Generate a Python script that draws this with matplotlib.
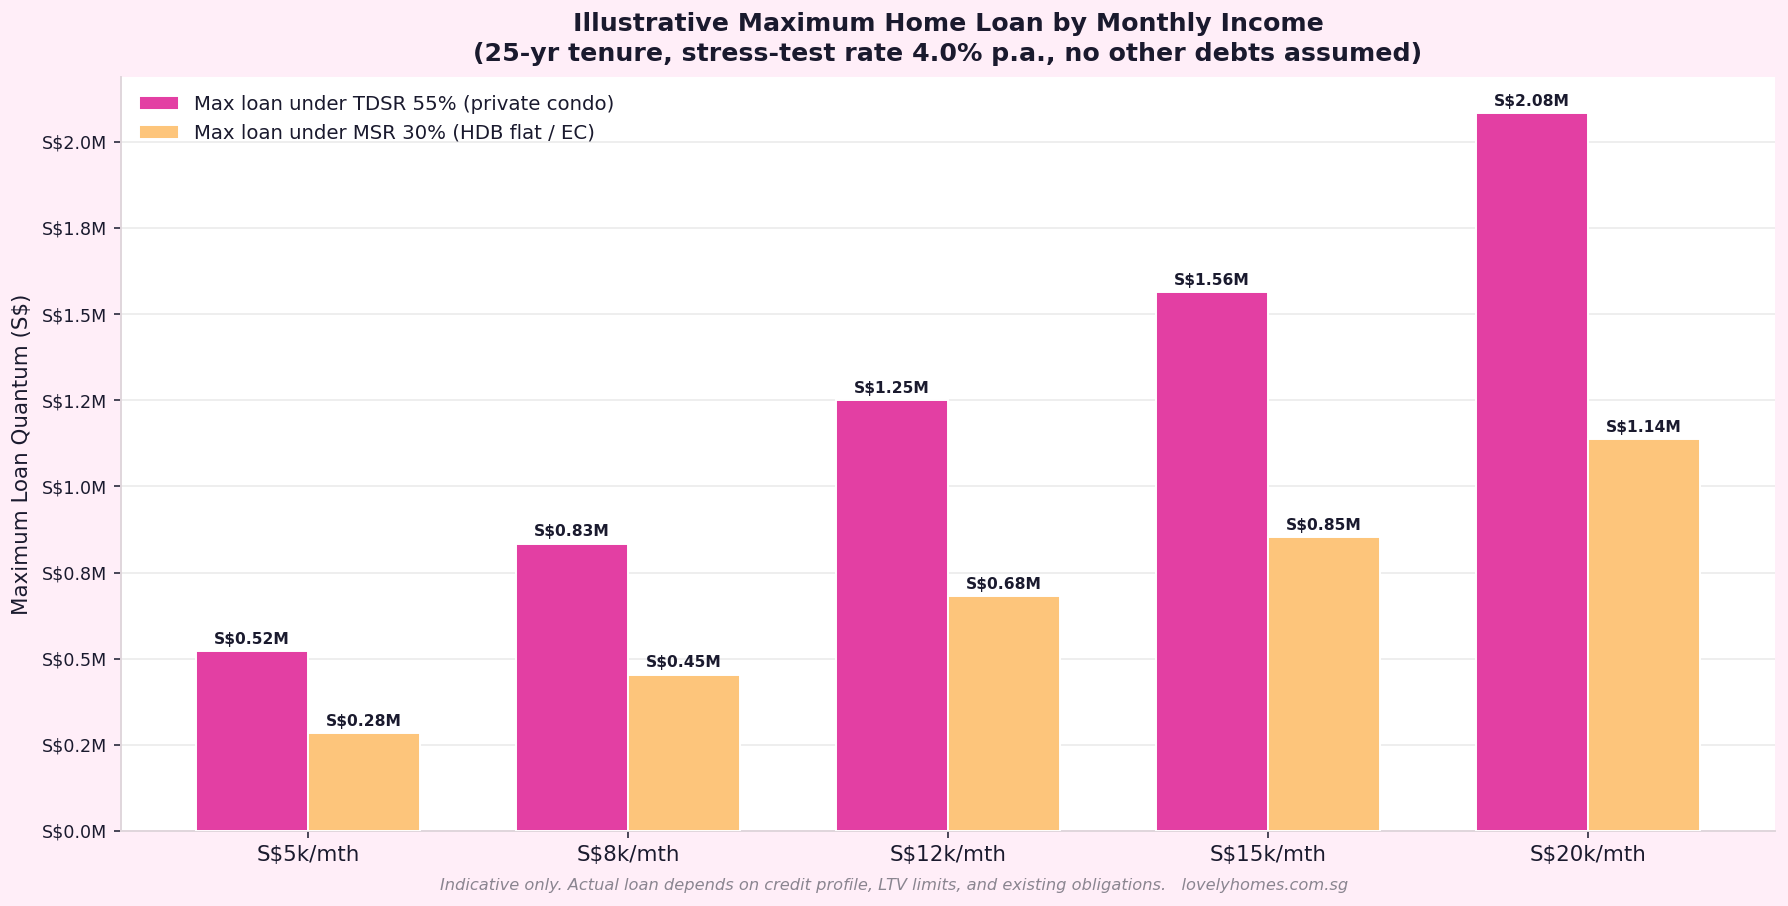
import matplotlib
matplotlib.use("Agg")
import matplotlib.pyplot as plt
import numpy as np
from matplotlib.ticker import FuncFormatter, MultipleLocator

plt.rcParams['font.family'] = ['DejaVu Sans']

categories = ["S$5k/mth", "S$8k/mth", "S$12k/mth", "S$15k/mth", "S$20k/mth"]
tdsr_loan = [521000, 834000, 1250000, 1563000, 2084000]
msr_loan = [284000, 454000, 682000, 853000, 1137000]
series_labels = ["Max loan under TDSR 55% (private condo)",
                 "Max loan under MSR 30% (HDB flat / EC)"]
title = ("Illustrative Maximum Home Loan by Monthly Income\n"
         "(25-yr tenure, stress-test rate 4.0% p.a., no other debts assumed)")
ylabel = "Maximum Loan Quantum (S$)"
footer = ("Indicative only. Actual loan depends on credit profile, LTV limits, "
          "and existing obligations.   lovelyhomes.com.sg")

DPI = 140
fig = plt.figure(figsize=(1788 / DPI, 906 / DPI), dpi=DPI, facecolor="#FFEEF8")
ax = fig.add_axes([0.0677, 0.0828, 0.9927 - 0.0677, 0.915 - 0.0828])
ax.set_facecolor("white")

x = np.arange(len(categories))
w = 0.35
c1, c2 = "#E33FA3", "#FDC57B"
b1 = ax.bar(x - w / 2, tdsr_loan, w, color=c1, edgecolor="white", linewidth=1,
            label=series_labels[0], zorder=3)
b2 = ax.bar(x + w / 2, msr_loan, w, color=c2, edgecolor="white", linewidth=1,
            label=series_labels[1], zorder=3)

for bars, vals in ((b1, tdsr_loan), (b2, msr_loan)):
    for r, v in zip(bars, vals):
        ax.annotate(f"S${v/1e6:.2f}M", (r.get_x() + r.get_width() / 2, r.get_height()),
                    xytext=(0, 2.2), textcoords="offset points", ha="center", va="bottom",
                    fontsize=8, fontweight="bold", color="#1a1a2e")

ax.set_ylim(0, max(tdsr_loan) * 1.05)
ax.yaxis.set_major_locator(MultipleLocator(250000))
ax.yaxis.set_major_formatter(FuncFormatter(lambda v, p: f"S${v/1e6:.1f}M"))
ax.set_xticks(x)
ax.set_xticklabels(categories, fontsize=11, color="#1a1a2e")
ax.tick_params(axis="y", labelsize=9, colors="#1a1a2e", length=3.5)
ax.tick_params(axis="x", length=3.5, color="#1a1a2e")
for lab in ax.get_yticklabels():
    lab.set_color("#1a1a2e")

ax.grid(axis="y", color="#EAEAEA", linewidth=0.8, zorder=0)
ax.set_axisbelow(True)
for s in ("top", "right"):
    ax.spines[s].set_visible(False)
for s in ("left", "bottom"):
    ax.spines[s].set_color("#E0D6DC")
    ax.spines[s].set_linewidth(1.0)

ax.set_ylabel(ylabel, fontsize=11, color="#1a1a2e")
ax.yaxis.set_label_coords(-0.054, 0.5)
ax.set_title(title, fontsize=13, fontweight="bold", color="#1a1a2e", pad=8,
             linespacing=1.32)

leg = ax.legend(loc="upper left", fontsize=10.2, frameon=False)
for t in leg.get_texts():
    t.set_color("#1a1a2e")

fig.text(0.5, 0.023, footer, ha="center", va="center", fontsize=8.35,
         style="italic", color="#8a8590")

fig.savefig("out.png", dpi=DPI, facecolor=fig.get_facecolor())
